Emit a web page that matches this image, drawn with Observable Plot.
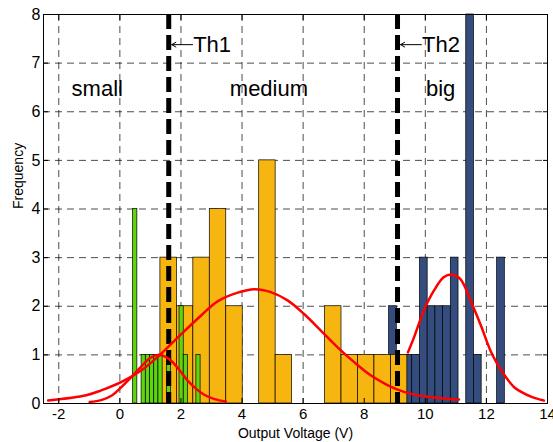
<!DOCTYPE html>
<html><head><meta charset="utf-8">
<script src="https://cdn.jsdelivr.net/npm/d3@7"></script>
<script src="https://cdn.jsdelivr.net/npm/@observablehq/plot@0.6"></script>
<style>
body{margin:0;background:#fff;}
#chart svg{display:block;}
</style></head><body><div id="chart"></div>
<script>
// ---- data ----
const xTicks = [-2, 0, 2, 4, 6, 8, 10, 12, 14];
const yTicks = [0, 1, 2, 3, 4, 5, 6, 7, 8];

// histogram bins: first bin edge, bin width, counts per bin
const smallStart = 0.435, smallWidth = 0.138;
const smallCounts = [4, 0, 1, 1, 1, 1, 1, 0, 1, 0, 0, 2, 1, 0, 0, 1];
const mediumStart = 1.327, mediumWidth = 0.539;
const mediumCounts = [3, 2, 3, 4, 2, 0, 5, 1, 0, 0, 2, 1, 1, 1, 1];
const bigStart = 8.814, bigWidth = 0.2526;
const bigCounts = [2, 1, 1, 1, 3, 2, 2, 2, 3, 0, 8, 1, 0, 0, 3];

// fitted curves
const smallFitX = [-0.99, -0.61, -0.25, 0.04, 0.40, 0.70, 1.00, 1.24, 1.50, 1.68, 1.95, 2.22, 2.50, 2.76, 3.10, 3.47];
const smallFitY = [0.03, 0.07, 0.17, 0.33, 0.56, 0.76, 0.94, 1.00, 0.96, 0.88, 0.69, 0.47, 0.30, 0.18, 0.09, 0.04];
const mediumFitX = [-2.35, -1.10, -0.61, 0.04, 0.70, 1.24, 1.90, 2.66, 3.20, 3.86, 4.40, 4.94, 5.49, 6.03, 6.58, 7.12, 7.67, 8.21, 8.76, 9.30, 9.85, 10.50, 11.10];
const mediumFitY = [0.06, 0.17, 0.27, 0.44, 0.68, 0.96, 1.36, 1.81, 2.10, 2.28, 2.35, 2.29, 2.12, 1.84, 1.50, 1.16, 0.85, 0.58, 0.38, 0.24, 0.16, 0.11, 0.08];
const bigFitX = [9.43, 9.63, 9.95, 10.28, 10.61, 10.88, 11.15, 11.48, 11.81, 12.13, 12.35, 12.57, 12.90, 13.11, 13.50, 13.88];
const bigFitY = [1.05, 1.36, 1.91, 2.32, 2.60, 2.65, 2.56, 2.12, 1.62, 1.09, 0.82, 0.60, 0.34, 0.25, 0.13, 0.06];

const thresholds = [1.6, 9.09];
const thresholdNames = ["Th1", "Th2"];
const classNames = ["small", "medium", "big"];
const classX = [-0.74, 4.88, 10.5];
const labelY = 6.47;
const arrowY = 7.38;

// ---- tables ----
const bins = (start, width, counts) => counts.map((c, i) => ({x1: start + i * width, x2: start + (i + 1) * width, y: c})).filter(d => d.y > 0);
const pts = (xs, ys) => xs.map((x, i) => ({x, y: ys[i]}));
const thTable = thresholds.map((t, i) => ({t, name: thresholdNames[i]}));

const font = "Liberation Sans, Arial, Helvetica, sans-serif";

const chart = Plot.plot({
  width: 553,
  height: 442,
  marginLeft: 43,
  marginRight: 6,
  marginTop: 14,
  marginBottom: 39,
  style: {fontFamily: font, fontSize: "16px", color: "#000", background: "#fff"},
  x: {domain: [-2.5, 14]},
  y: {domain: [0, 8]},
  marks: [
    Plot.ruleX(xTicks, {stroke: "#000", strokeOpacity: 0.7, strokeDasharray: "7,5", strokeWidth: 1}),
    Plot.ruleY(yTicks, {stroke: "#000", strokeOpacity: 0.7, strokeDasharray: "7,5", strokeWidth: 1}),
    Plot.rectY(bins(bigStart, bigWidth, bigCounts), {x1: "x1", x2: "x2", y: "y", fill: "#344c7e", stroke: "#000", strokeWidth: 0.7}),
    Plot.rectY(bins(mediumStart, mediumWidth, mediumCounts), {x1: "x1", x2: "x2", y: "y", fill: "#f7b60f", stroke: "#000", strokeWidth: 0.7}),
    Plot.rectY(bins(smallStart, smallWidth, smallCounts), {x1: "x1", x2: "x2", y: "y", fill: "#5fd60b", stroke: "#000", strokeWidth: 0.7}),
    Plot.ruleX(thresholds, {stroke: "#000", strokeWidth: 5, strokeDasharray: "15,6"}),
    Plot.line(pts(smallFitX, smallFitY), {x: "x", y: "y", stroke: "#ff0000", strokeWidth: 2.5, curve: "catmull-rom"}),
    Plot.line(pts(mediumFitX, mediumFitY), {x: "x", y: "y", stroke: "#ff0000", strokeWidth: 2.5, curve: "catmull-rom"}),
    Plot.line(pts(bigFitX, bigFitY), {x: "x", y: "y", stroke: "#ff0000", strokeWidth: 2.5, curve: "catmull-rom"}),
    Plot.arrow(thTable, {x1: d => d.t + 0.78, x2: d => d.t + 0.1, y1: arrowY, y2: arrowY, stroke: "#000", strokeWidth: 1, headLength: 7}),
    Plot.text(thTable, {x: d => d.t + 0.8, y: arrowY, text: "name", textAnchor: "start", fontSize: 22, lineAnchor: "middle", fill: "#000"}),
    Plot.text(classNames, {x: (d, i) => classX[i], y: labelY, text: d => d, textAnchor: "middle", fontSize: 22, lineAnchor: "middle", fill: "#000"}),
    Plot.frame({stroke: "#000", strokeWidth: 1}),
    Plot.axisX({ticks: xTicks, tickSize: -5, tickPadding: 10, tickFormat: d => String(d), label: null, fontSize: 15}),
    Plot.axisX({anchor: "top", ticks: xTicks, tickSize: -5, tickFormat: () => "", label: null}),
    Plot.axisY({ticks: yTicks, tickSize: -5, tickPadding: 8, tickFormat: d => String(d), label: null, fontSize: 16}),
    Plot.axisY({anchor: "right", ticks: yTicks, tickSize: -5, tickFormat: () => "", label: null}),
    Plot.text(["Output Voltage (V)"], {frameAnchor: "bottom", dy: 30, fontSize: 14, lineAnchor: "middle", fill: "#000"}),
    Plot.text(["Frequency"], {frameAnchor: "left", dx: -25, rotate: -90, fontSize: 14, lineAnchor: "middle", fill: "#000"})
  ]
});
document.getElementById("chart").appendChild(chart);
</script></body></html>
